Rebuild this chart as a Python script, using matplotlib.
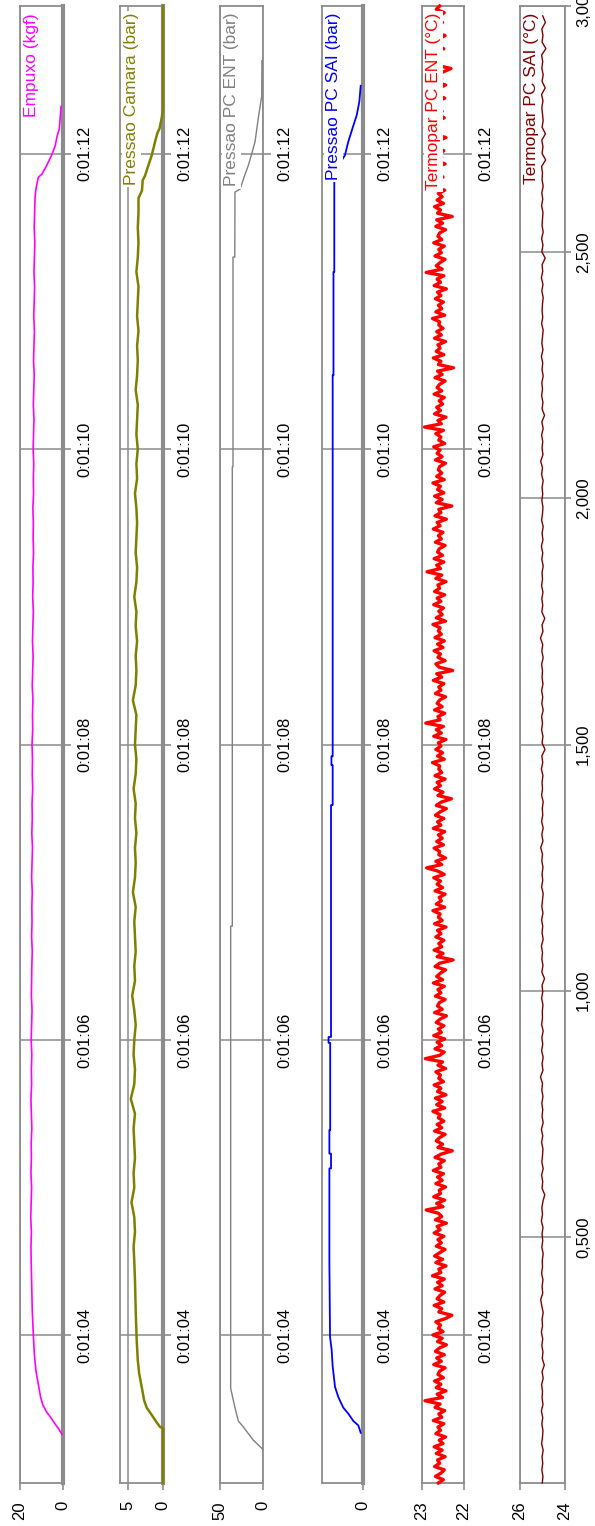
import numpy as np
import matplotlib
matplotlib.use("Agg")
import matplotlib.pyplot as plt
from matplotlib.ticker import FixedLocator, FuncFormatter

plt.rcParams['font.family'] = ['Liberation Sans', 'DejaVu Sans']

# ---- data (time in seconds) ----
time_ticks = [64, 66, 68, 70, 72]

# Empuxo (kgf)
empuxo_rise_t = [63.33, 63.37, 63.40, 63.45, 63.48, 63.53, 63.58, 63.67, 63.76, 63.87, 64.00, 64.17, 64.37]
empuxo_rise_v = [0.5, 2.2, 3.7, 6.0, 7.6, 9.4, 10.4, 11.5, 12.6, 13.3, 13.8, 14.3, 14.6]
empuxo_body_v = [14.8, 14.9, 14.7, 15.0, 14.8, 14.6, 14.9, 14.7, 14.8, 14.5,
                 14.7, 14.9, 14.6, 14.7, 14.5, 14.8, 14.6, 14.4, 14.7, 14.6,
                 14.5, 14.3, 14.6, 14.4, 14.5, 14.3, 14.6, 14.4, 14.2, 14.5,
                 14.3, 14.4, 14.1, 14.3, 14.2, 14.4, 14.1, 14.2, 14.0, 14.3,
                 14.1, 13.9, 14.2, 14.0, 13.8, 14.1, 13.9, 14.0, 13.7, 13.9,
                 13.8, 14.0, 13.7, 13.8, 13.6, 13.9, 13.7, 13.5, 13.8, 13.6,
                 13.4, 13.7, 13.5, 13.3, 13.6, 13.4, 13.2, 13.5, 13.3, 13.1,
                 13.4, 13.2, 13.0]
empuxo_fall_t = [71.76, 71.84, 71.86, 71.92, 71.99, 72.05, 72.12, 72.17, 72.32]
empuxo_fall_v = [12.6, 11.5, 9.9, 7.6, 5.3, 3.7, 2.7, 1.7, 0.9]

# Pressao Camara (bar)
camara_rise_t = [63.00, 63.37, 63.38, 63.41, 63.46, 63.51, 63.56, 63.64, 63.74, 63.83, 63.97, 64.17, 64.37]
camara_rise_v = [0.0, 0.0, 0.43, 0.9, 1.6, 2.33, 2.7, 3.0, 3.4, 3.6, 3.76, 3.9, 4.0]
camara_body_v = [4.1, 4.2, 4.0, 4.1, 4.5, 4.1, 4.2, 4.0, 4.1, 4.2,
                 4.0, 4.6, 4.1, 4.0, 4.2, 4.1, 3.9, 4.1, 4.4, 4.0,
                 4.1, 3.9, 4.0, 4.1, 3.9, 4.3, 4.0, 3.9, 4.0, 3.8,
                 4.0, 3.9, 4.2, 3.9, 3.8, 4.0, 3.9, 3.8, 4.3, 3.9,
                 3.8, 3.9, 3.7, 3.9, 3.8, 4.1, 3.8, 3.7, 3.9, 3.8,
                 3.7, 3.8, 4.0, 3.7, 3.8, 3.6, 3.8, 3.7, 3.6, 3.9,
                 3.7, 3.6, 3.7, 3.5, 3.7, 3.6, 3.5, 3.8, 3.6, 3.5,
                 3.6, 3.5, 3.5]
camara_fall_t = [71.75, 71.82, 71.85, 71.92, 71.99, 72.08, 72.14, 72.17, 72.24, 72.30, 73.00]
camara_fall_v = [3.0, 2.9, 2.57, 2.1, 1.6, 1.14, 0.8, 0.5, 0.19, 0.0, 0.0]

# Pressao PC ENT (bar)
ent_t = [63.23, 63.29, 63.38, 63.42, 63.51, 63.61, 63.64, 66.77, 66.77, 69.88, 69.88,
         71.30, 71.30, 71.74, 71.76, 71.86, 71.92, 72.00, 72.08, 72.24, 72.39, 72.63]
ent_v = [0.5, 11.3, 22.9, 28.7, 32.6, 36.4, 37.6, 37.6, 35.7, 35.7, 34.9,
         34.9, 32.8, 32.6, 26.7, 20.9, 17.1, 13.1, 9.3, 5.5, 1.5, 1.2]

# Pressao PC SAI (bar)
sai_t = [63.34, 63.39, 63.42, 63.47, 63.51, 63.58, 63.65, 63.79, 63.90, 63.99, 64.51,
         65.13, 65.13, 65.23, 65.23, 65.39, 65.39, 65.98, 65.98, 66.02, 66.02, 67.59,
         67.59, 67.86, 67.86, 67.92, 67.92, 70.5, 70.5, 71.2, 71.2, 71.85, 71.9,
         71.99, 72.08, 72.19, 72.26, 72.35, 72.46]
sai_v = [0.28, 0.57, 1.18, 1.8, 2.4, 3.0, 3.41, 3.7, 3.82, 4.02, 4.1,
         4.1, 3.9, 3.9, 4.1, 4.1, 4.0, 4.0, 4.2, 4.2, 3.9, 3.9,
         3.7, 3.7, 3.85, 3.85, 3.7, 3.7, 3.6, 3.6, 3.5, 3.5, 3.2,
         2.2, 1.8, 1.18, 0.77, 0.45, 0.28]

# Termopar PC ENT (C)
termo_ent_v = [
    22.61, 22.49, 22.68, 22.55, 22.47, 22.70, 22.58, 22.63, 22.45, 22.66, 22.52, 22.71, 22.50, 22.59, 22.44,
    22.67, 22.56, 22.62, 22.48, 22.73, 22.53, 22.60, 22.46, 22.69, 22.57, 22.93, 22.51, 22.64, 22.43, 22.66,
    22.55, 22.70, 22.49, 22.62, 22.58, 22.45, 22.72, 22.54, 22.65, 22.47, 22.68, 22.59, 22.42, 22.63, 22.52,
    22.74, 22.50, 22.61, 22.56, 22.67, 22.44, 22.29, 22.60, 22.53, 22.71, 22.48, 22.64, 22.57, 22.46, 22.69,
    22.52, 22.63, 22.47, 22.75, 22.55, 22.60, 22.43, 22.67, 22.51, 22.70, 22.58, 22.45, 22.66, 22.54, 22.62,
    22.48, 22.71, 22.57, 22.64, 22.42, 22.68, 22.53, 22.61, 22.90, 22.50, 22.65, 22.46, 22.72, 22.56, 22.59,
    22.44, 22.67, 22.52, 22.63, 22.49, 22.73, 22.55, 22.60, 22.47, 22.69, 22.54, 22.28, 22.62, 22.51, 22.66,
    22.58, 22.45, 22.70, 22.53, 22.64, 22.48, 22.61, 22.57, 22.74, 22.46, 22.65, 22.52, 22.68, 22.43, 22.63,
    22.55, 22.71, 22.49, 22.60, 22.56, 22.67, 22.44, 22.62, 22.51, 22.92, 22.58, 22.47, 22.69, 22.53, 22.64,
    22.46, 22.72, 22.54, 22.61, 22.48, 22.66, 22.57, 22.42, 22.70, 22.52, 22.63, 22.59, 22.45, 22.68, 22.55,
    22.62, 22.47, 22.73, 22.51, 22.65, 22.56, 22.44, 22.69, 22.58, 22.26, 22.64, 22.50, 22.71, 22.53, 22.60,
    22.48, 22.67, 22.55, 22.63, 22.43, 22.70, 22.52, 22.61, 22.57, 22.74, 22.46, 22.66, 22.54, 22.59, 22.45,
    22.69, 22.51, 22.64, 22.56, 22.72, 22.47, 22.62, 22.89, 22.53, 22.67, 22.44, 22.60, 22.58, 22.71, 22.49,
    22.65, 22.52, 22.61, 22.46, 22.73, 22.55, 22.63, 22.48, 22.68, 22.57, 22.42, 22.66, 22.54, 22.30, 22.62,
    22.50, 22.70, 22.56, 22.64, 22.45, 22.69, 22.53, 22.60, 22.58, 22.75, 22.47, 22.63, 22.51, 22.67, 22.55,
    22.61, 22.43, 22.72, 22.54, 22.66, 22.49, 22.91, 22.57, 22.62, 22.46, 22.70, 22.52, 22.64, 22.58, 22.44,
    22.68, 22.55, 22.60, 22.48, 22.73, 22.53, 22.65, 22.27, 22.59, 22.67, 22.45, 22.62, 22.56, 22.71, 22.50,
    22.63, 22.47, 22.69, 22.54, 22.61, 22.57, 22.74, 22.44, 22.66, 22.52, 22.60, 22.49, 22.72, 22.55, 22.64,
    22.46, 22.70, 22.58, 22.62, 22.43, 22.67, 22.53, 22.88, 22.56, 22.65, 22.48, 22.71, 22.51, 22.63, 22.59,
    22.45, 22.68, 22.54, 22.61, 22.50, 22.73, 22.57, 22.64, 22.42, 22.69, 22.55, 22.60, 22.29, 22.66, 22.52,
    22.70, 22.48, 22.63, 22.56, 22.74, 22.47, 22.65, 22.53, 22.61, 22.58, 22.44, 22.68, 22.52, 22.64, 22.57,
    22.72, 22.46, 22.60, 22.55, 22.67, 22.49, 22.94, 22.54, 22.62, 22.43, 22.70, 22.56, 22.65, 22.51, 22.59,
    22.47, 22.71, 22.53, 22.64, 22.58, 22.45, 22.69, 22.52, 22.63, 22.25, 22.61, 22.55, 22.73, 22.48, 22.66,
    22.57, 22.62, 22.44, 22.70, 22.54, 22.65, 22.50, 22.60, 22.58, 22.75, 22.46, 22.67, 22.53, 22.61, 22.49,
    22.68, 22.55, 22.63, 22.42, 22.71, 22.56, 22.64, 22.48, 22.90, 22.52, 22.66, 22.57, 22.45, 22.69, 22.54,
    22.60, 22.47, 22.72, 22.53, 22.62, 22.58, 22.44, 22.67, 22.51, 22.65, 22.28, 22.63, 22.56, 22.70, 22.49,
    22.64, 22.52, 22.61, 22.46, 22.73, 22.55, 22.66, 22.50, 22.59, 22.57, 22.74, 22.45, 22.68, 22.53, 22.62,
    22.48, 22.69, 22.56, 22.63, 22.43, 22.70, 22.54, 22.92, 22.58, 22.65, 22.47, 22.61, 22.52, 22.72, 22.55,
    22.63, 22.46, 22.67, 22.57, 22.60, 22.44, 22.71, 22.53, 22.64, 22.49, 22.31, 22.66, 22.55, 22.62, 22.58,
    22.74, 22.48, 22.65, 22.54, 22.61, 22.45, 22.69, 22.56, 22.63, 22.51, 22.70, 22.57, 22.47, 22.66, 22.58]

# Termopar PC SAI (C), drawn against its own 0..3 axis
termo_sai_v = [
    25.01, 24.98, 25.03, 24.99, 25.02, 24.97, 25.04, 25.00, 24.98, 25.03, 24.99, 25.05, 24.98, 25.02, 25.00,
    25.04, 24.97, 25.02, 24.92, 25.01, 24.98, 25.03, 24.99, 25.05, 25.00, 25.02, 24.97, 25.03, 25.08, 24.99,
    25.02, 24.98, 25.04, 25.00, 25.01, 24.97, 25.03, 24.99, 25.02, 24.98, 25.05, 25.00, 25.03, 24.98, 24.90,
    25.02, 24.99, 25.04, 24.97, 25.03, 25.00, 24.98, 25.04, 24.99, 25.05, 24.97, 25.02, 24.99, 25.03, 24.98,
    25.03, 25.00, 25.09, 24.98, 25.02, 24.97, 25.04, 24.99, 25.03, 24.97, 25.04, 25.00, 25.01, 24.98, 25.04,
    24.99, 25.02, 24.91, 25.03, 24.98, 25.03, 25.00, 25.05, 24.97, 25.02, 24.99, 25.04, 24.98, 25.03, 25.00,
    24.97, 25.04, 24.99, 25.02, 24.98, 25.03, 25.00, 25.08, 24.98, 25.03, 24.97, 25.04, 24.99, 25.01, 24.97,
    25.04, 25.00, 25.02, 24.98, 25.05, 24.99, 25.03, 24.89, 25.02, 24.98, 25.04, 25.00, 25.04, 24.97, 25.03,
    24.99, 25.04, 24.98, 25.02, 25.00, 25.04, 24.97, 25.03, 24.99, 25.09, 24.98, 25.02, 24.90, 25.03, 24.99,
    25.03, 24.98, 25.04, 25.00, 25.02, 24.97, 25.03, 24.99, 25.05, 24.98, 25.02, 24.97, 25.04, 25.00, 24.98,
    25.03, 24.99, 25.02, 24.97, 25.04, 25.00, 25.08, 24.98, 25.02, 24.99, 25.04, 24.97, 25.03, 24.91, 25.02,
    24.98, 25.04, 25.00, 25.03, 24.97, 25.02, 24.99, 25.05, 24.98, 25.03, 25.00, 24.97, 25.04, 24.99, 25.02,
    25.00, 24.97, 25.03, 24.98, 25.05, 24.99, 25.02, 24.88, 25.03, 24.98, 25.04, 24.97, 25.02, 25.00, 24.98,
    25.04, 24.99, 25.03, 24.97, 25.02, 25.00, 25.04, 24.86, 25.02, 24.98, 25.03, 24.87, 25.02, 24.97, 25.00,
    25.03, 24.98, 25.04, 24.88, 25.02, 24.97, 25.03, 24.99, 25.04, 24.85, 25.02, 24.98, 25.03, 24.87, 24.99]
sai_axis_ticks = [0.5, 1.0, 1.5, 2.0, 2.5, 3.0]

empuxo_t = np.concatenate([empuxo_rise_t, np.linspace(64.5, 71.7, len(empuxo_body_v)), empuxo_fall_t])
empuxo_v = np.concatenate([empuxo_rise_v, empuxo_body_v, empuxo_fall_v])
camara_t = np.concatenate([camara_rise_t, np.linspace(64.5, 71.7, len(camara_body_v)), camara_fall_t])
camara_v = np.concatenate([camara_rise_v, camara_body_v, camara_fall_v])
termo_ent_t = np.linspace(63.0, 73.0, len(termo_ent_v))
termo_sai_s = np.linspace(0.0, 2.98, len(termo_sai_v))

GREY = '#8c8c8c'
FIG_W, FIG_H = 595, 1526


def hms(s, pos):
    s = int(round(s))
    return f"{s // 3600}:{(s // 60) % 60:02d}:{s % 60:02d}"


def comma3(v, pos):
    return f"{v:.3f}".replace('.', ',')


# (left px, width px, label, colour, line width, xlim, xticks, thick zero line, x data, y data)
panels = [
    (20, 43, 'Empuxo (kgf)', '#ff00ff', 1.2, (20, 0), [20, 0], True, empuxo_v, empuxo_t),
    (120, 43, 'Pressao Camara (bar)', '#808000', 1.8, (6.14, 0), [5, 0], True, camara_v, camara_t),
    (220, 43, 'Pressao PC ENT (bar)', '#808080', 1.0, (50, 0), [50, 0], False, ent_v, ent_t),
    (322, 41, 'Pressao PC SAI (bar)', '#0000ff', 1.3, (5, 0), [0], True, sai_v, sai_t),
    (422, 42, 'Termopar PC ENT (°C)', '#ff0000', 2.4, (23, 22), [23, 22], False, termo_ent_v, termo_ent_t),
    (520, 45, 'Termopar PC SAI (°C)', '#800000', 1.0, (26, 24), [26, 24], False, termo_sai_v, termo_sai_s),
]

fig = plt.figure(figsize=(FIG_W / 100, FIG_H / 100), dpi=100)

for i, (left, width, label, color, lw, xlim, xticks, zero_line, xs, ys) in enumerate(panels):
    ax = fig.add_axes([left / FIG_W, 43 / FIG_H, width / FIG_W, 1477 / FIG_H])
    ax.set_xlim(*xlim)
    ax.xaxis.set_major_locator(FixedLocator(xticks))
    ax.yaxis.tick_right()
    if i < 5:
        ax.set_ylim(63.0, 73.0)
        ax.yaxis.set_major_locator(FixedLocator(time_ticks))
        ax.yaxis.set_major_formatter(FuncFormatter(hms))
        ylen = 6
    else:
        ax.set_ylim(0, 3.0)
        ax.yaxis.set_major_locator(FixedLocator(sai_axis_ticks))
        ax.yaxis.set_major_formatter(FuncFormatter(comma3))
        ylen = 4
    ax.tick_params(axis='x', direction='out', length=5, width=1.2, color=GREY,
                   labelsize=12, pad=8, labelrotation=90)
    ax.tick_params(axis='y', direction='out', length=ylen, width=1.2, color=GREY,
                   labelsize=12, pad=4, labelrotation=90)
    for lab in ax.get_yticklabels():
        lab.set_va('center')
    ax.grid(True, color=GREY, lw=1.1)
    ax.set_axisbelow(True)
    for sp in ax.spines.values():
        sp.set_color(GREY)
        sp.set_linewidth(1.3)
    if zero_line:
        ax.axvline(0, color=GREY, lw=3, clip_on=False, zorder=1.5)
    ax.plot(xs, ys, color=color, lw=lw, clip_on=False, zorder=3)
    ax.annotate(label, xy=(0, 1), xycoords='axes fraction', xytext=(3, -5),
                textcoords='offset points', rotation=90, ha='left', va='top',
                color=color, fontsize=12.5, zorder=6,
                bbox=dict(facecolor='white', edgecolor='none', pad=1.5))

fig.savefig('out.png', dpi=100)
